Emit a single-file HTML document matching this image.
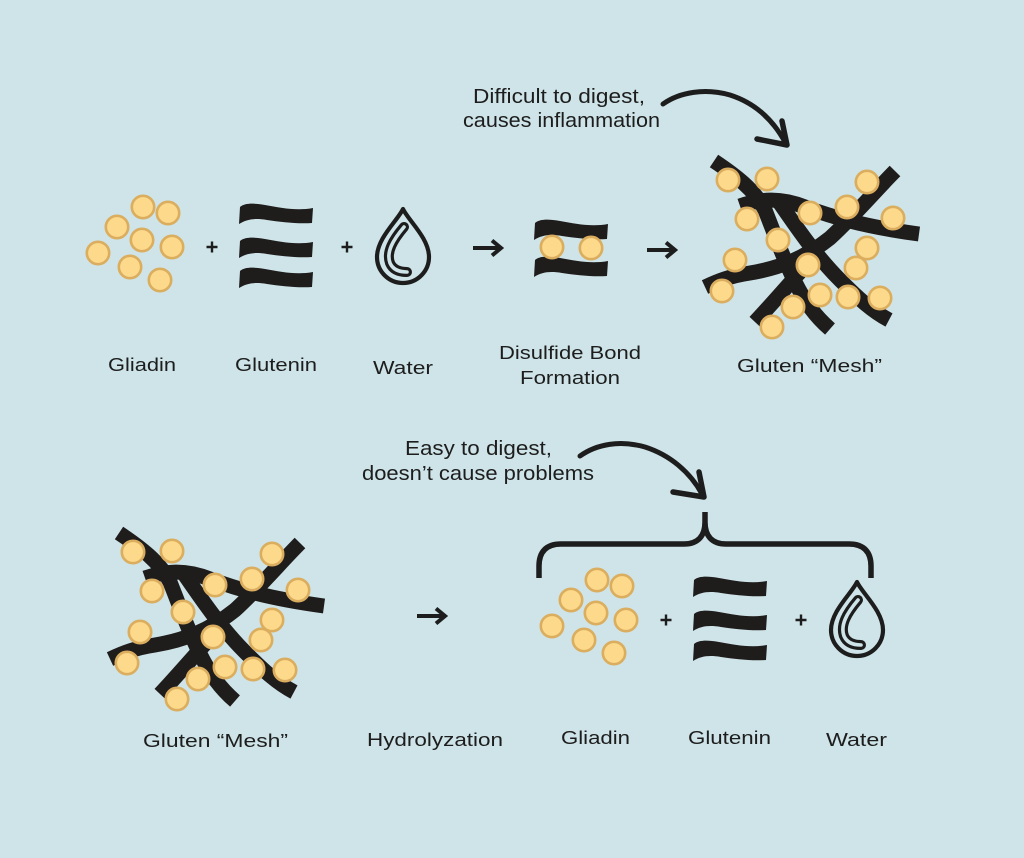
<!DOCTYPE html>
<html>
<head>
<meta charset="utf-8">
<style>
  html, body { margin: 0; padding: 0; background: #cee4e8; }
  svg { display: block; }
  text { font-family: "Liberation Sans", "DejaVu Sans", sans-serif; fill: #1d1d1d; }
</style>
</head>
<body>
<svg width="1024" height="858" viewBox="0 0 1024 858" xmlns="http://www.w3.org/2000/svg">
  <defs>
    <path id="strand" d="M1,3 C6,-1 14,-1 26,1 C42,4 58,7 74,4 L73,19 C58,20 42,18 28,16 C16,14 8,15 0,20 Z" fill="#1f1c1c"/>
    <g id="bead">
      <circle r="11.2" fill="#fdd98b" stroke="#dbad5e" stroke-width="2.6"/>
    </g>
    <g id="ingredients">
      <use href="#bead" x="143" y="207"/>
      <use href="#bead" x="168" y="213"/>
      <use href="#bead" x="117" y="227"/>
      <use href="#bead" x="142" y="240"/>
      <use href="#bead" x="172" y="247"/>
      <use href="#bead" x="98" y="253"/>
      <use href="#bead" x="130" y="267"/>
      <use href="#bead" x="160" y="280"/>
      <path d="M206.5,247 H217.5 M212,241.5 V252.5" stroke="#1d1d1d" stroke-width="2.4" fill="none"/>
      <path d="M341.5,247 H352.5 M347,241.5 V252.5" stroke="#1d1d1d" stroke-width="2.4" fill="none"/>
      <use href="#strand" x="239" y="204"/>
      <use href="#strand" x="239" y="238"/>
      <use href="#strand" x="239" y="268"/>
      <path d="M403,209 C398,220 377,238 377,257 A26,26 0 0 0 429,257 C429,238 408,220 403,209 Z" fill="none" stroke="#1d1d1d" stroke-width="4.2" stroke-linejoin="round"/>
      <path d="M404,227 C393,240 386,252 390,263 C393,270 400,272 407,272" fill="none" stroke="#1d1d1d" stroke-width="10" stroke-linecap="round"/>
      <path d="M404,227 C393,240 386,252 390,263 C393,270 400,272 407,272" fill="none" stroke="#cee4e8" stroke-width="3.6" stroke-linecap="round"/>
    </g>
    <g id="mesh">
      <g fill="none" stroke="#1f1c1c" stroke-width="15" stroke-linecap="butt" stroke-linejoin="round">
        <path d="M714,161 C735,175 755,190 765,210 C775,235 783,258 795,282 C805,302 815,316 830,329"/>
        <path d="M740,206 C760,199 780,197 805,207 C830,216 860,226 919,234"/>
        <path d="M895,171 C876,190 855,215 830,238 C805,258 780,268 750,273 C730,276 718,281 705,287"/>
        <path d="M755,322 C770,306 782,292 800,272"/>
        <path d="M777,199 C795,225 815,255 840,280 C858,298 872,311 889,320"/>
      </g>
      <use href="#bead" x="728" y="180"/>
      <use href="#bead" x="767" y="179"/>
      <use href="#bead" x="867" y="182"/>
      <use href="#bead" x="847" y="207"/>
      <use href="#bead" x="810" y="213"/>
      <use href="#bead" x="893" y="218"/>
      <use href="#bead" x="747" y="219"/>
      <use href="#bead" x="778" y="240"/>
      <use href="#bead" x="867" y="248"/>
      <use href="#bead" x="735" y="260"/>
      <use href="#bead" x="808" y="265"/>
      <use href="#bead" x="856" y="268"/>
      <use href="#bead" x="722" y="291"/>
      <use href="#bead" x="820" y="295"/>
      <use href="#bead" x="848" y="297"/>
      <use href="#bead" x="880" y="298"/>
      <use href="#bead" x="793" y="307"/>
      <use href="#bead" x="772" y="327"/>
    </g>
  </defs>

  <rect x="0" y="0" width="1024" height="858" fill="#cee4e8"/>

  <!-- ===== TOP ROW ===== -->
  <use href="#ingredients"/>

  <path d="M473,248 H500 M492,240.5 L501,248 L492,255.5" fill="none" stroke="#1d1d1d" stroke-width="4" stroke-linejoin="miter"/>

  <use href="#strand" x="534" y="220"/>
  <use href="#strand" x="534" y="257"/>
  <use href="#bead" x="552" y="247"/>
  <use href="#bead" x="591" y="248"/>

  <path d="M647,250 H674 M666,242.5 L675,250 L666,257.5" fill="none" stroke="#1d1d1d" stroke-width="4" stroke-linejoin="miter"/>

  <use href="#mesh"/>

  <path d="M663,104 C680,92 705,88 730,95 C755,103 773,120 785,142" fill="none" stroke="#1d1d1d" stroke-width="5" stroke-linecap="round"/>
  <path d="M757,139 L787,145 L782,121" fill="none" stroke="#1d1d1d" stroke-width="5.5" stroke-linecap="round" stroke-linejoin="round"/>

  <text x="473" y="103" font-size="20" textLength="172" lengthAdjust="spacingAndGlyphs">Difficult to digest,</text>
  <text x="463" y="127" font-size="20" textLength="197" lengthAdjust="spacingAndGlyphs">causes inflammation</text>

  <text x="108" y="371" font-size="18" textLength="68" lengthAdjust="spacingAndGlyphs">Gliadin</text>
  <text x="235" y="371" font-size="18" textLength="82" lengthAdjust="spacingAndGlyphs">Glutenin</text>
  <text x="373" y="374" font-size="18" textLength="60" lengthAdjust="spacingAndGlyphs">Water</text>
  <text x="499" y="359" font-size="18" textLength="142" lengthAdjust="spacingAndGlyphs">Disulfide Bond</text>
  <text x="520" y="384" font-size="18" textLength="100" lengthAdjust="spacingAndGlyphs">Formation</text>
  <text x="737" y="372" font-size="18" textLength="145" lengthAdjust="spacingAndGlyphs">Gluten “Mesh”</text>

  <!-- ===== BOTTOM ROW ===== -->
  <g transform="translate(-595,372)">
    <use href="#mesh"/>
  </g>

  <path d="M417,616 H444 M436,608.5 L445,616 L436,623.5" fill="none" stroke="#1d1d1d" stroke-width="4" stroke-linejoin="miter"/>

  <g transform="translate(454,373)">
    <use href="#ingredients"/>
  </g>

  <path d="M539,578 L539,566 C539,552 546,544 561,544 L684,544 C698,544 705,536 705,522 L705,512 M705,522 C705,536 712,544 726,544 L849,544 C864,544 871,552 871,566 L871,578" fill="none" stroke="#1d1d1d" stroke-width="5.5" stroke-linejoin="round"/>

  <path d="M580,456 C597,444 620,440 645,447 C670,455 690,472 702,494" fill="none" stroke="#1d1d1d" stroke-width="5" stroke-linecap="round"/>
  <path d="M673,492 L704,497 L699,472" fill="none" stroke="#1d1d1d" stroke-width="5.5" stroke-linecap="round" stroke-linejoin="round"/>

  <text x="405" y="455" font-size="20" textLength="147" lengthAdjust="spacingAndGlyphs">Easy to digest,</text>
  <text x="362" y="480" font-size="20" textLength="232" lengthAdjust="spacingAndGlyphs">doesn’t cause problems</text>

  <text x="143" y="747" font-size="18" textLength="145" lengthAdjust="spacingAndGlyphs">Gluten “Mesh”</text>
  <text x="367" y="746" font-size="18" textLength="136" lengthAdjust="spacingAndGlyphs">Hydrolyzation</text>
  <text x="561" y="744" font-size="18" textLength="69" lengthAdjust="spacingAndGlyphs">Gliadin</text>
  <text x="688" y="744" font-size="18" textLength="83" lengthAdjust="spacingAndGlyphs">Glutenin</text>
  <text x="826" y="746" font-size="18" textLength="61" lengthAdjust="spacingAndGlyphs">Water</text>
</svg>
</body>
</html>
